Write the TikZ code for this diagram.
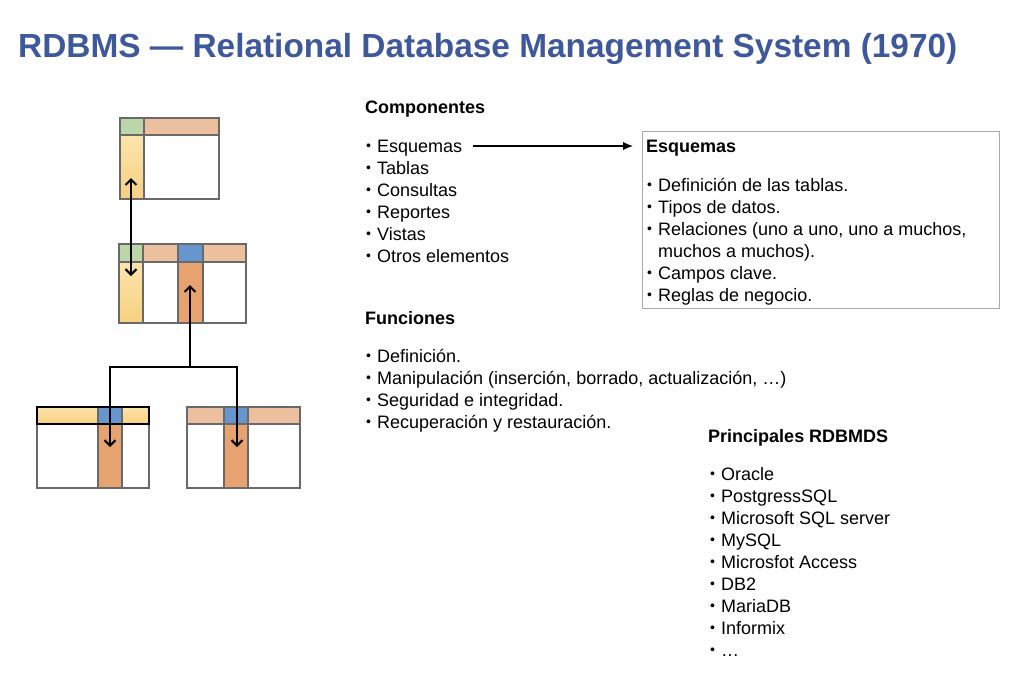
\documentclass[tikz,border=0pt]{standalone}
\usepackage{fontspec}
\setmainfont{Liberation Sans}
\usetikzlibrary{arrows.meta}

\definecolor{titleblue}{RGB}{62,89,155}
\definecolor{keygreen}{RGB}{187,214,168}
\definecolor{hdrorange}{RGB}{236,192,158}
\definecolor{pkyellowA}{RGB}{251,228,172}
\definecolor{pkyellowB}{RGB}{247,208,128}
\definecolor{fkblue}{RGB}{103,149,206}
\definecolor{fkorange}{RGB}{230,162,111}
\definecolor{cellline}{RGB}{105,105,105}
\definecolor{boxline}{RGB}{170,170,170}

\newcommand{\listdot}{\llap{\raisebox{1.2pt}{\fontsize{14}{14}\selectfont\textbullet}\hspace{6.3pt}}}

\begin{document}
\begin{tikzpicture}[x=1pt,y=-1pt,
  cell/.style={draw=cellline,line width=1.5pt},
  pkcell/.style={cell,top color=pkyellowA,bottom color=pkyellowB},
  txt/.style={anchor=base west,inner sep=0pt,text height=12.5pt,text depth=3.5pt,
    font=\fontsize{18}{21}\selectfont},
  head/.style={txt,font=\fontsize{18}{21}\selectfont\bfseries},
  item/.style={txt,execute at begin node={\listdot}},
  keylink/.style={line width=2pt,
    {Straight Barb[length=5.5pt,width=11pt]}-{Straight Barb[length=5.5pt,width=11pt]}},
  fklink/.style={line width=2pt,-{Straight Barb[length=5.5pt,width=11pt]}},
  pointer/.style={line width=1.4pt,-{Latex[length=10pt,width=8.5pt]}}
]
\useasboundingbox (0,0) rectangle (1024,683);

% title
\node[anchor=base west,inner sep=0pt,text=titleblue,
  font=\fontsize{33.4}{40}\selectfont\bfseries] (title) at (18,57)
  {RDBMS — Relational Database Management System (1970)};

% ---- table 1 (top)
\path[cell,fill=keygreen]  (120,118) rectangle (144,135);
\path[cell,fill=hdrorange] (144,118) rectangle (219,135);
\path[pkcell]              (120,135) rectangle (144,199);
\path[cell,fill=white]     (144,135) rectangle (219,199);

% ---- table 2 (middle)
\path[cell,fill=keygreen]  (119,244) rectangle (143,262);
\path[cell,fill=hdrorange] (143,244) rectangle (178,262);
\path[cell,fill=fkblue]    (178,244) rectangle (203,262);
\path[cell,fill=hdrorange] (203,244) rectangle (246,262);
\path[pkcell]              (119,262) rectangle (143,323);
\path[cell,fill=white]     (143,262) rectangle (178,323);
\path[cell,fill=fkorange]  (178,262) rectangle (203,323);
\path[cell,fill=white]     (203,262) rectangle (246,323);

% ---- table 3 (bottom left)
\path[cell,fill=white]     (37,424) rectangle (98,488);
\path[cell,fill=fkorange]  (98,424) rectangle (122,488);
\path[cell,fill=white]     (122,424) rectangle (149,488);
\path[cell,top color=pkyellowA,bottom color=pkyellowB] (37,407) rectangle (98,424);
\path[cell,top color=pkyellowA,bottom color=pkyellowB] (122,407) rectangle (149,424);
\path[cell,fill=fkblue]    (98,407) rectangle (122,424);
\draw[line width=2pt] (37,407) rectangle (149,424);

% ---- table 4 (bottom right)
\path[cell,fill=hdrorange] (187,407) rectangle (224,424);
\path[cell,fill=fkblue]    (224,407) rectangle (248,424);
\path[cell,fill=hdrorange] (248,407) rectangle (300,424);
\path[cell,fill=white]     (187,424) rectangle (224,488);
\path[cell,fill=fkorange]  (224,424) rectangle (248,488);
\path[cell,fill=white]     (248,424) rectangle (300,488);

% ---- key links
\coordinate (t1key) at (131,178);
\coordinate (t2key) at (131,276);
\coordinate (t2fk)  at (190,285);
\coordinate (split) at (190,367);
\coordinate (t3fk)  at (110,447);
\coordinate (t4fk)  at (237,447);
\draw[keylink] (t1key) -- (t2key);
\draw[fklink] (split) -- (t2fk);
\draw[fklink] (split) -| (t3fk);
\draw[fklink] (split) -| (t4fk);

% ---- Componentes
\node[head] (comphead) at (365,113) {Componentes};
\foreach \t [count=\i] in {Esquemas,Tablas,Consultas,Reportes,Vistas,Otros elementos}
  \node[item] (comp\i) at (377,{152+22*(\i-1)}) {\t};

% ---- Esquemas box
\node[draw=boxline,line width=1pt,anchor=north west,minimum width=357pt,
  minimum height=177pt,inner sep=0pt] (esqbox) at (642,131) {};
\node[head] (esqhead) at (646,152) {Esquemas};
\node[item] (esq1) at (658,191) {Definición de las tablas.};
\node[item] (esq2) at (658,213) {Tipos de datos.};
\node[item] (esq3) at (658,235) {Relaciones (uno a uno, uno a muchos,};
\node[txt]  (esq3b) at (658,257) {muchos a muchos).};
\node[item] (esq4) at (658,279) {Campos clave.};
\node[item] (esq5) at (658,301) {Reglas de negocio.};

\coordinate (esqout) at ([xshift=11pt,yshift=1.5pt]comp1.east);
\coordinate (esqin) at ([xshift=-9pt]esqbox.west);
\draw[pointer] (esqout) -- (esqin |- esqout);

% ---- Funciones
\node[head] (funchead) at (365,324) {Funciones};
\foreach \t [count=\i] in {Definición.,{Manipulación (inserción, borrado, actualización, …)},
    Seguridad e integridad.,Recuperación y restauración.}
  \node[item] (func\i) at (377,{362+22*(\i-1)}) {\t};

% ---- Principales RDBMDS
\node[head] (rdbhead) at (708,442) {Principales RDBMDS};
\foreach \t [count=\i] in {Oracle,PostgressSQL,Microsoft SQL server,MySQL,
    Microsfot Access,DB2,MariaDB,Informix,…}
  \node[item] (rdb\i) at (721,{480+22*(\i-1)}) {\t};

\end{tikzpicture}
\end{document}
